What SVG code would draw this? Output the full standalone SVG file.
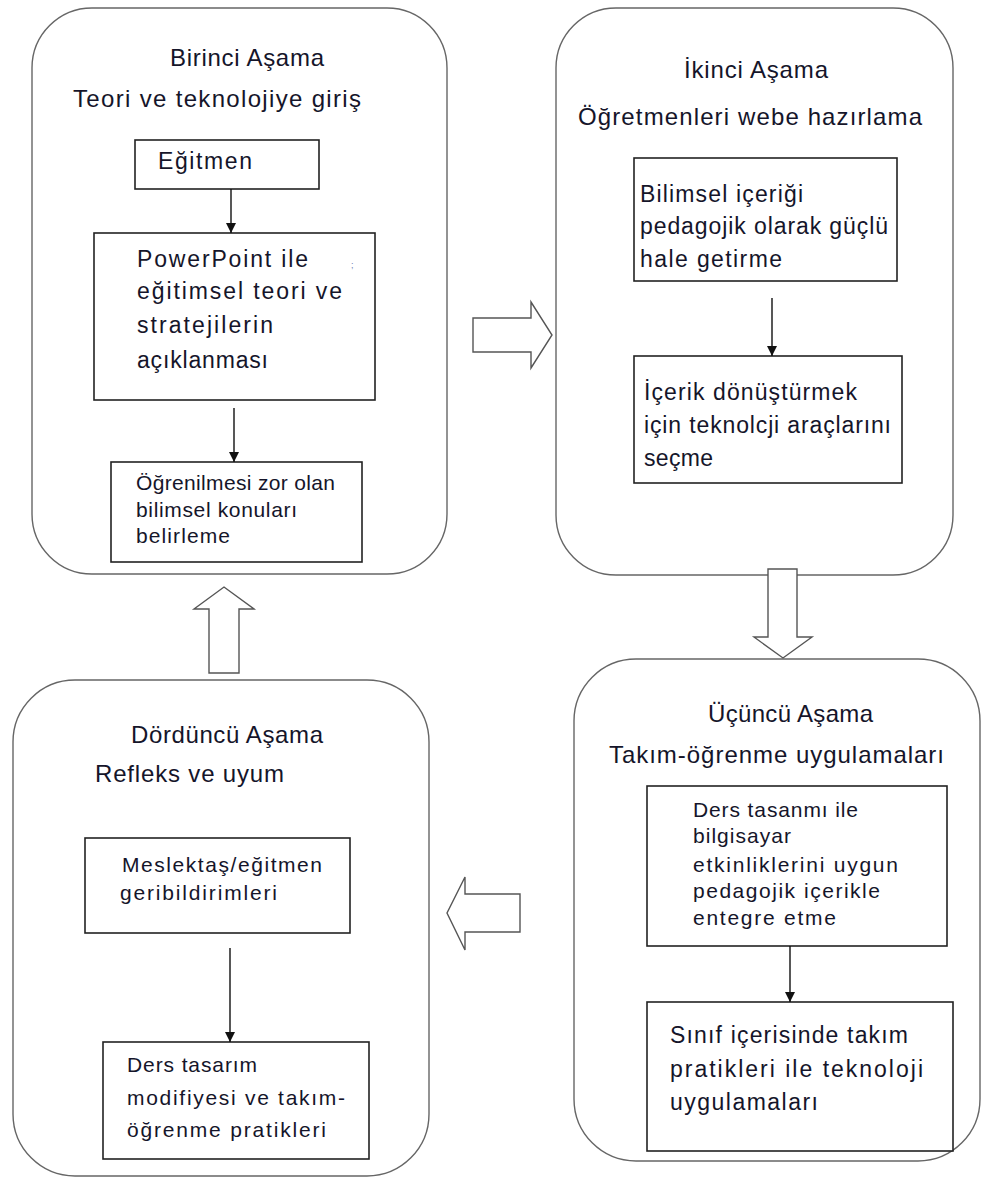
<svg xmlns="http://www.w3.org/2000/svg" width="984" height="1178" viewBox="0 0 984 1178">
  <defs>
    <marker id="head" viewBox="0 0 10 10" refX="10" refY="5" markerWidth="10" markerHeight="10" markerUnits="userSpaceOnUse" orient="auto">
      <path d="M0,0 L10,5 L0,10 Z" fill="#111"/>
    </marker>
    <style>
      .stage { fill: #fff; stroke: #666; stroke-width: 1.4; }
      .box { fill: #fff; stroke: #222; stroke-width: 1.6; }
      .flow { fill: #fff; stroke: #555; stroke-width: 1.4; stroke-linejoin: miter; }
      .link { stroke: #111; stroke-width: 1.4; fill: none; marker-end: url(#head); }
      text { font-family: "Liberation Sans", Arial, sans-serif; fill: #15152a; }
      .title { font-size: 24px; }
      .big { font-size: 23px; }
      .small { font-size: 21px; }
    </style>
  </defs>
  <rect width="984" height="1178" fill="#fff"/>

  <!-- Stage 1 -->
  <g id="stage1">
    <rect class="stage" x="32" y="8" width="415" height="566" rx="60" ry="60"/>
    <text class="title" x="170" y="66" textLength="154" lengthAdjust="spacing">Birinci Aşama</text>
    <text class="title" x="73" y="107" textLength="288" lengthAdjust="spacing">Teori ve teknolojiye giriş</text>
  </g>
  <g id="s1-egitmen">
    <rect class="box" x="135" y="140" width="184" height="49"/>
    <text class="big" x="158" y="169" textLength="94" lengthAdjust="spacing">Eğitmen</text>
  </g>
  <g id="s1-powerpoint">
    <rect class="box" x="94" y="233" width="281" height="167"/>
    <text class="big" x="137" y="267" textLength="171" lengthAdjust="spacing">PowerPoint ile</text>
    <text class="big" x="137" y="299" textLength="205" lengthAdjust="spacing">eğitimsel teori ve</text>
    <text class="big" x="137" y="333" textLength="136" lengthAdjust="spacing">stratejilerin</text>
    <text class="big" x="137" y="368" textLength="131" lengthAdjust="spacing">açıklanması</text>
    <text x="351" y="268" style="font-size:9px;fill:#6f82b4">;</text>
  </g>
  <g id="s1-konular">
    <rect class="box" x="111" y="462" width="251" height="100"/>
    <text class="small" x="136" y="490" textLength="199" lengthAdjust="spacing">Öğrenilmesi zor olan</text>
    <text class="small" x="136" y="517" textLength="161" lengthAdjust="spacing">bilimsel konuları</text>
    <text class="small" x="136" y="543" textLength="94" lengthAdjust="spacing">belirleme</text>
  </g>

  <!-- Stage 2 -->
  <g id="stage2">
    <rect class="stage" x="556" y="8" width="397" height="567" rx="60" ry="60"/>
    <text class="title" x="684" y="78" textLength="144" lengthAdjust="spacing">İkinci Aşama</text>
    <text class="title" x="578" y="125" textLength="344" lengthAdjust="spacing">Öğretmenleri webe hazırlama</text>
  </g>
  <g id="s2-icerik">
    <rect class="box" x="634" y="158" width="263" height="123"/>
    <text class="big" x="640" y="202" textLength="163" lengthAdjust="spacing">Bilimsel içeriği</text>
    <text class="big" x="640" y="234" textLength="248" lengthAdjust="spacing">pedagojik olarak güçlü</text>
    <text class="big" x="640" y="267" textLength="142" lengthAdjust="spacing">hale getirme</text>
  </g>
  <g id="s2-araclar">
    <rect class="box" x="634" y="356" width="268" height="127"/>
    <text class="big" x="644" y="400" textLength="213" lengthAdjust="spacing">İçerik dönüştürmek</text>
    <text class="big" x="644" y="433" textLength="247" lengthAdjust="spacing">için teknolcji araçlarını</text>
    <text class="big" x="644" y="466" textLength="69" lengthAdjust="spacing">seçme</text>
  </g>

  <!-- Stage 3 -->
  <g id="stage3">
    <rect class="stage" x="574" y="659" width="406" height="502" rx="62" ry="62"/>
    <text class="title" x="708" y="722" textLength="165" lengthAdjust="spacing">Üçüncü Aşama</text>
    <text class="title" x="609" y="763" textLength="335" lengthAdjust="spacing">Takım-öğrenme uygulamaları</text>
  </g>
  <g id="s3-entegre">
    <rect class="box" x="647" y="786" width="300" height="160"/>
    <text class="small" x="693" y="817" textLength="165" lengthAdjust="spacing">Ders tasanmı ile</text>
    <text class="small" x="693" y="843" textLength="98" lengthAdjust="spacing">bilgisayar</text>
    <text class="small" x="693" y="872" textLength="205" lengthAdjust="spacing">etkinliklerini uygun</text>
    <text class="small" x="693" y="898" textLength="187" lengthAdjust="spacing">pedagojik içerikle</text>
    <text class="small" x="693" y="925" textLength="143" lengthAdjust="spacing">entegre etme</text>
  </g>
  <g id="s3-sinif">
    <rect class="box" x="647" y="1002" width="306" height="149"/>
    <text class="big" x="670" y="1043" textLength="238" lengthAdjust="spacing">Sınıf içerisinde takım</text>
    <text class="big" x="670" y="1077" textLength="253" lengthAdjust="spacing">pratikleri ile teknoloji</text>
    <text class="big" x="670" y="1110" textLength="148" lengthAdjust="spacing">uygulamaları</text>
  </g>

  <!-- Stage 4 -->
  <g id="stage4">
    <rect class="stage" x="13" y="680" width="416" height="496" rx="62" ry="62"/>
    <text class="title" x="131" y="743" textLength="192" lengthAdjust="spacing">Dördüncü Aşama</text>
    <text class="title" x="95" y="782" textLength="189" lengthAdjust="spacing">Refleks ve uyum</text>
  </g>
  <g id="s4-geribildirim">
    <rect class="box" x="85" y="838" width="265" height="95"/>
    <text class="small" x="122" y="872" textLength="200" lengthAdjust="spacing">Meslektaş/eğitmen</text>
    <text class="small" x="120" y="900" textLength="157" lengthAdjust="spacing">geribildirimleri</text>
  </g>
  <g id="s4-modifiye">
    <rect class="box" x="103" y="1042" width="266" height="117"/>
    <text class="small" x="127" y="1072" textLength="130" lengthAdjust="spacing">Ders tasarım</text>
    <text class="small" x="127" y="1105" textLength="218" lengthAdjust="spacing">modifiyesi ve takım-</text>
    <text class="small" x="127" y="1137" textLength="199" lengthAdjust="spacing">öğrenme pratikleri</text>
  </g>

  <!-- Connectors: thin arrows inside stages, block arrows between stages -->
  <g id="connectors">
    <line class="link" x1="231" y1="189" x2="231" y2="233"/>
    <line class="link" x1="234" y1="408" x2="234" y2="462"/>
    <line class="link" x1="772" y1="298" x2="772" y2="356"/>
    <line class="link" x1="790" y1="946" x2="790" y2="1002"/>
    <line class="link" x1="230" y1="948" x2="230" y2="1042"/>

    <!-- stage 1 to stage 2 -->
    <polygon class="flow" points="473,318 531,318 531,302 552,335 531,368 531,352 473,352"/>
    <!-- stage 2 to stage 3 -->
    <polygon class="flow" points="768,569 797,569 797,637 812,637 783,658 754,637 768,637"/>
    <!-- stage 3 to stage 4 -->
    <polygon class="flow" points="520,894 465,894 465,877 447,913 465,950 465,932 520,932"/>
    <!-- stage 4 to stage 1 -->
    <polygon class="flow" points="209,673 209,609 194,609 224,587 254,609 239,609 239,673"/>
  </g>
</svg>
